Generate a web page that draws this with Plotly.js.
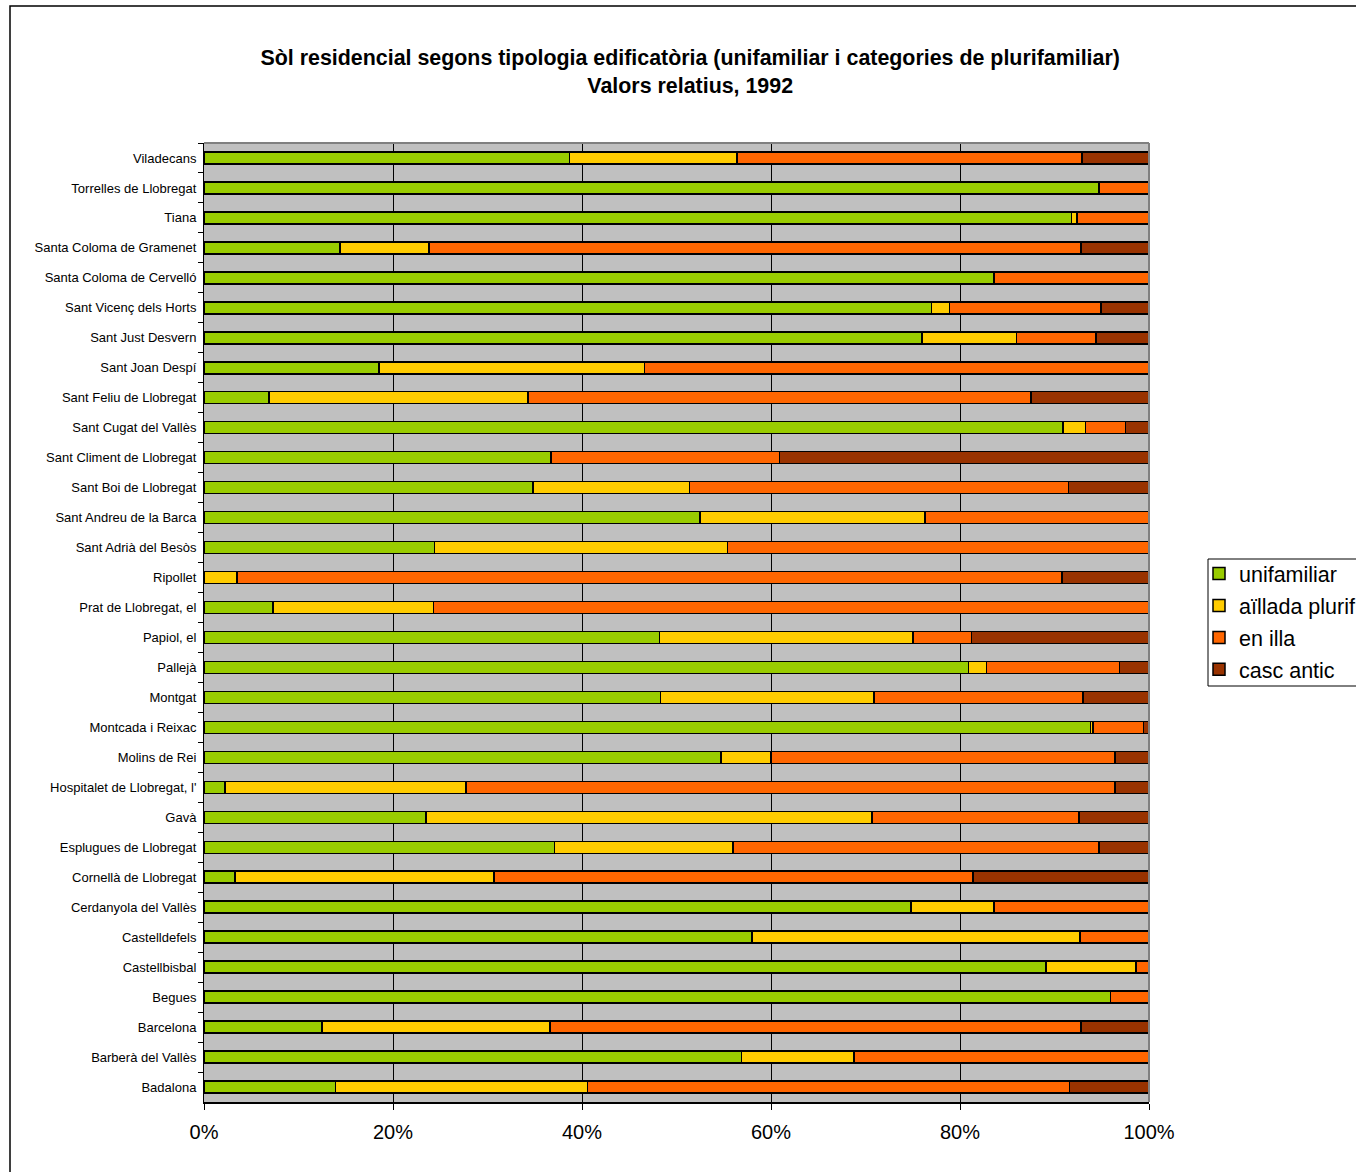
<!DOCTYPE html>
<html>
<head>
<meta charset="utf-8">
<script src="https://cdn.plot.ly/plotly-3.0.1.min.js"></script>
<style>
html,body{margin:0;padding:0;background:#fff;overflow:hidden;}
#chart{width:1356px;height:1172px;}
</style>
</head>
<body>
<div id="chart"></div>
<script>
// Categories, top to bottom as shown
const municipis = [
  "Viladecans","Torrelles de Llobregat","Tiana","Santa Coloma de Gramenet",
  "Santa Coloma de Cervelló","Sant Vicenç dels Horts","Sant Just Desvern","Sant Joan Despí",
  "Sant Feliu de Llobregat","Sant Cugat del Vallès","Sant Climent de Llobregat","Sant Boi de Llobregat",
  "Sant Andreu de la Barca","Sant Adrià del Besòs","Ripollet","Prat de Llobregat, el",
  "Papiol, el","Pallejà","Montgat","Montcada i Reixac",
  "Molins de Rei","Hospitalet de Llobregat, l'","Gavà","Esplugues de Llobregat",
  "Cornellà de Llobregat","Cerdanyola del Vallès","Castelldefels","Castellbisbal",
  "Begues","Barcelona","Barberà del Vallès","Badalona"
];

// Percentages (share of residential land), same order
const unifamiliar = [
  38.7, 94.7, 91.8, 14.4,
  83.6, 77.0, 76.0, 18.5,
  6.9, 90.9, 36.7, 34.8,
  52.5, 24.4, 0.0, 7.3,
  48.2, 80.9, 48.3, 93.8,
  54.7, 2.2, 23.5, 37.1,
  3.3, 74.8, 58.0, 89.1,
  95.9, 12.5, 56.9, 13.9
];
const aillada = [
  17.7, 0.0, 0.6, 9.4,
  0.0, 1.9, 10.0, 28.1,
  27.4, 2.4, 0.0, 16.6,
  23.8, 31.0, 3.5, 17.0,
  26.8, 1.9, 22.6, 0.3,
  5.3, 25.5, 47.2, 18.9,
  27.4, 8.8, 34.7, 9.5,
  0.0, 24.1, 11.9, 26.7
];
const enIlla = [
  36.5, 5.3, 7.6, 69.0,
  16.4, 16.0, 8.4, 53.4,
  53.2, 4.2, 24.2, 40.1,
  23.7, 44.6, 87.3, 75.7,
  6.2, 14.1, 22.1, 5.3,
  36.4, 68.7, 21.9, 38.7,
  50.7, 16.4, 7.3, 1.4,
  4.1, 56.2, 31.2, 51.0
];
const cascAntic = [
  7.1, 0.0, 0.0, 7.2,
  0.0, 5.1, 5.6, 0.0,
  12.5, 2.5, 39.1, 8.5,
  0.0, 0.0, 9.2, 0.0,
  18.8, 3.1, 7.0, 0.6,
  3.6, 3.6, 7.4, 5.3,
  18.6, 0.0, 0.0, 0.0,
  0.0, 7.2, 0.0, 8.4
];

const seriesNames = ["unifamiliar","aïllada plurif","en illa","casc antic"];
const seriesColors = ["#99CC00","#FFCC00","#FF6600","#993300"];
const seriesValues = [unifamiliar, aillada, enIlla, cascAntic];
const xTickVals = [0,20,40,60,80,100];
const xTickText = ["0%","20%","40%","60%","80%","100%"];

const FONT = "Liberation Sans, Arial, Helvetica, sans-serif";

const traces = seriesValues.map((vals, i) => ({
  type: "bar",
  orientation: "h",
  name: seriesNames[i],
  legendgroup: "g" + i,
  x: vals,
  y: municipis,
  marker: {color: seriesColors[i], line: {color: "#000000", width: 1.5}},
  hoverinfo: "name+x"
}));

const layout = {
  width: 1356,
  height: 1172,
  margin: {l: 204, r: 207, t: 143, b: 70, pad: 0, autoexpand: false},
  paper_bgcolor: "#FFFFFF",
  plot_bgcolor: "#C0C0C0",
  barmode: "stack",
  bargap: 0.6,
  font: {family: FONT, color: "#000000"},
  title: {
    text: "<b>Sòl residencial segons tipologia edificatòria (unifamiliar i categories de plurifamiliar)</b><br><b>Valors relatius, 1992</b>",
    font: {family: FONT, size: 21.4, color: "#000000"},
    x: 0.509, xref: "container", xanchor: "center",
    y: 0.9448, yref: "container", yanchor: "middle"
  },
  xaxis: {
    range: [0, 100],
    tickvals: xTickVals,
    ticktext: xTickText,
    tickfont: {family: FONT, size: 20, color: "#000000"},
    ticks: "outside", ticklen: 6, tickcolor: "#000000", tickwidth: 1,
    ticklabelstandoff: 5,
    showgrid: true, gridcolor: "#000000", gridwidth: 1,
    zeroline: false,
    showline: true, linecolor: "#000000", linewidth: 1.5,
    fixedrange: true
  },
  yaxis: {
    type: "category",
    autorange: "reversed",
    tickfont: {family: FONT, size: 13, color: "#000000"},
    ticks: "outside", ticklen: 5, tickcolor: "#000000", tickwidth: 1,
    tickson: "boundaries",
    ticklabelstandoff: 4,
    showgrid: false,
    showline: true, linecolor: "#000000", linewidth: 1,
    fixedrange: true
  },
  showlegend: true,
  legend: {
    x: (1199 - 204) / 945, xanchor: "left",
    y: (1102 - 553) / 959, yanchor: "top",
    bgcolor: "rgba(0,0,0,0)",
    borderwidth: 0,
    font: {family: FONT, size: 21.5, color: "#000000"},
    traceorder: "grouped",
    tracegroupgap: 1,
    itemwidth: 30
  },
  shapes: [
    // plot area border (top and right, grey)
    {type: "line", xref: "paper", yref: "paper", x0: 0, x1: 1, y0: 1, y1: 1, line: {color: "#808080", width: 2}},
    {type: "line", xref: "paper", yref: "paper", x0: 1, x1: 1, y0: 0, y1: 1, line: {color: "#808080", width: 2}},
    // legend frame
    {type: "rect", xref: "paper", yref: "paper",
     x0: (1208 - 204) / 945, x1: (1370 - 204) / 945,
     y0: (1102 - 686) / 959, y1: (1102 - 559) / 959,
     line: {color: "#000000", width: 1}, fillcolor: "rgba(0,0,0,0)", layer: "above"},
    // chart outer frame
    {type: "rect", xref: "paper", yref: "paper", x0: (10 - 204) / 945, x1: 1.35, y0: -0.12, y1: (1102 - 6) / 959,
     line: {color: "#000000", width: 1.5}, fillcolor: "rgba(0,0,0,0)", layer: "above"}
  ]
};

Plotly.newPlot("chart", traces, layout, {displayModeBar: false, staticPlot: true});
</script>
</body>
</html>
